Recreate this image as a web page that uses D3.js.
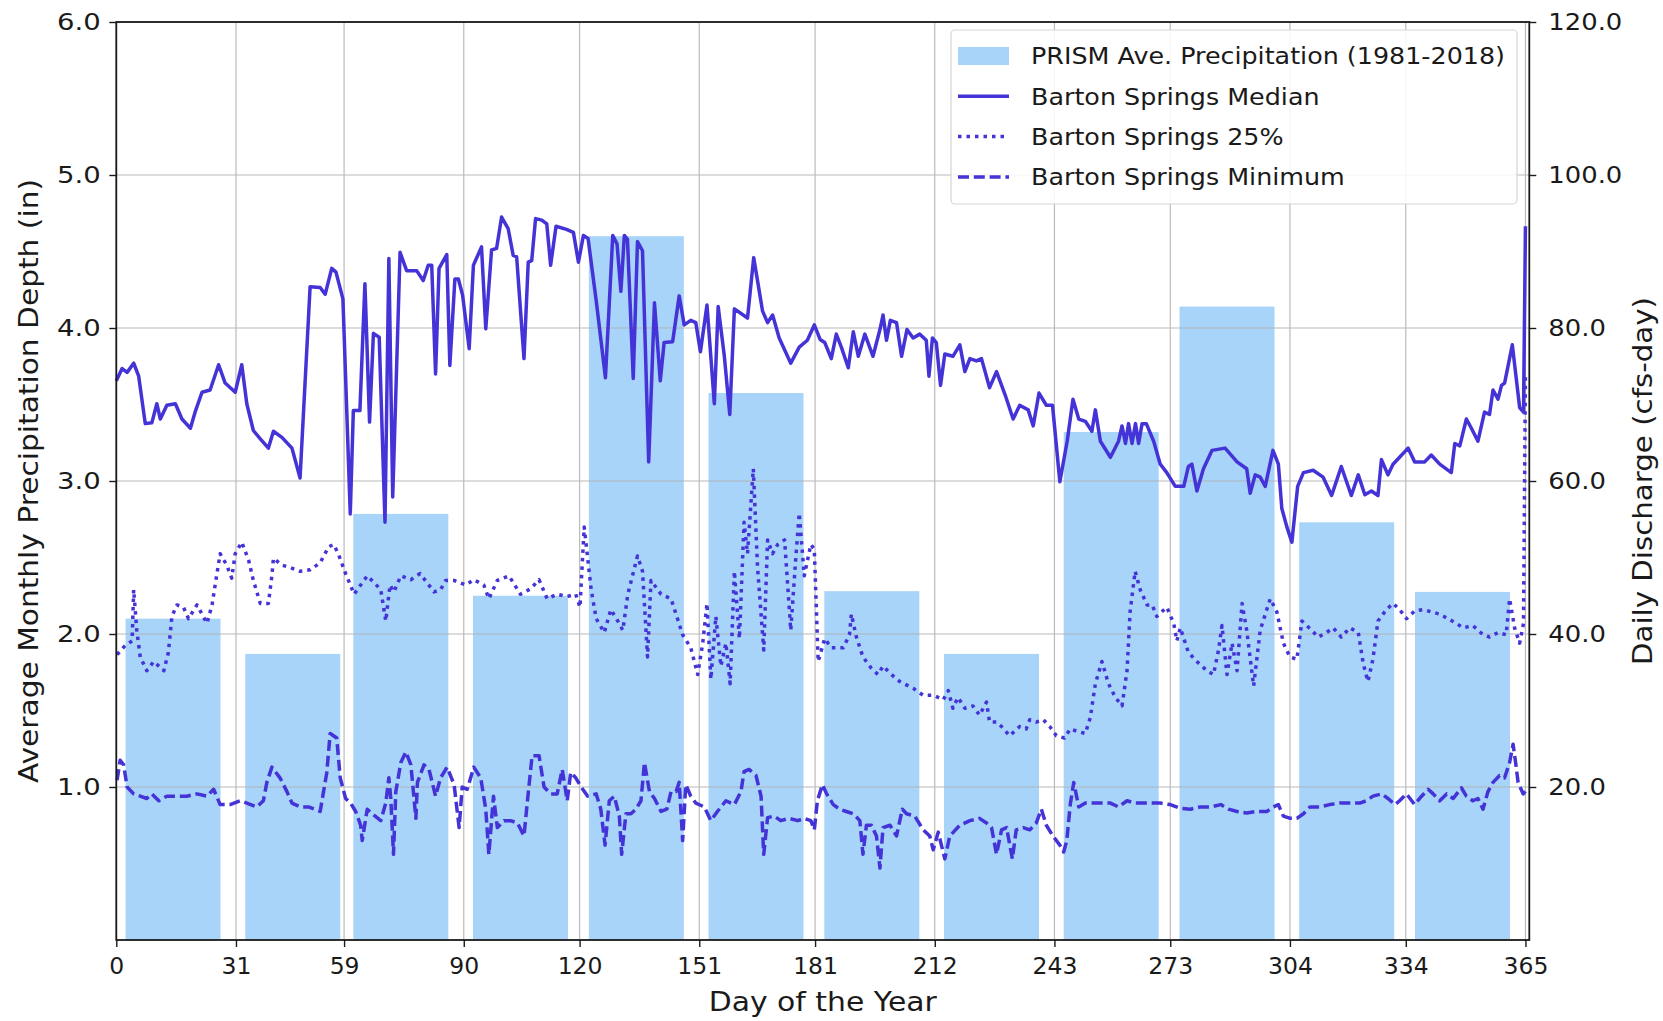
<!DOCTYPE html>
<html>
<head>
<meta charset="utf-8">
<script src="https://cdn.jsdelivr.net/npm/d3@7"></script>
<style>
  html, body { margin: 0; padding: 0; background: #ffffff; }
  svg { display: block; }
  text { font-family: "DejaVu Sans", sans-serif; fill: #1a1a1a; }
</style>
</head>
<body>
<svg id="chart" width="1663" height="1021"></svg>
<script>
// ---------------- DATA ----------------
const months = ["Jan","Feb","Mar","Apr","May","Jun","Jul","Aug","Sep","Oct","Nov","Dec"];
const monthStartDay = [0, 31, 59, 90, 120, 151, 181, 212, 243, 273, 304, 334];
const precipInches = [2.10, 1.87, 2.785, 2.25, 4.60, 3.575, 2.28, 1.87, 3.32, 4.14, 2.73, 2.275];

const xTickDays = [0, 31, 59, 90, 120, 151, 181, 212, 243, 273, 304, 334, 365];
const leftTicks = [1.0, 2.0, 3.0, 4.0, 5.0, 6.0];
const rightTicks = [20, 40, 60, 80, 100, 120];

const medianDays = [0,1.5,2.8,4.5,5.8,7.5,9.2,10.5,11.4,13.1,15.3,17,19.2,20.4,22.2,24.3,26.5,28.2,30.8,32.5,33.8,35.5,37.3,39.4,40.7,42.9,45.5,47.6,50.2,52.8,54.1,55.8,56.9,58.7,60.6,61.4,63.1,64.4,65.6,66.6,68.1,69.6,70.6,71.6,73.5,75.2,77.8,79.5,80.8,81.7,82.7,83.6,85.6,86.4,87.7,88.6,89.7,91.4,92.5,94.6,95.7,97.2,98.5,99.8,101.5,102.8,103.7,105.6,106.7,107.6,108.6,110.2,111.5,112.5,113.9,116.6,118.4,119.7,121,122.2,124.3,126.7,128.6,129.7,130.7,131.6,132.4,133.9,135,136.3,137.9,139.4,140.9,141.9,144.1,145.8,147.1,148.8,150.1,151.3,153,154.9,155.9,157.5,158.9,160.1,163.5,165.1,167.4,168.7,170,171.7,174.7,176.9,179,180.8,182.3,183.5,185.2,186.5,187.8,189.6,190.9,192.2,193.9,196,197.8,198.6,199.5,200.5,202.1,203.4,204.8,206.4,208.1,209.8,210.5,211.4,212.4,213.5,214.6,216.7,218.5,219.8,221.1,222.8,224.1,226.2,228,230.2,232.3,234,236.2,237.5,239,240.9,242.5,244.4,246.3,247.8,249.3,251,252.7,253.6,254.9,257.5,259.6,260.5,261.4,262.2,263.1,264,264.8,265.7,266.8,268.7,270.4,272.1,274.3,276.5,277.7,278.6,279.9,281.6,283.8,287.2,290.3,292.8,293.7,295,296.3,297.6,299.6,301,301.9,303.2,304.5,306,307.5,310,312.6,314.8,317.3,319.9,321.7,323.4,325.1,326.8,327.7,329.4,330.7,332.4,334.6,336.3,338.9,340.6,342.8,345.8,346.7,348,349.7,351,352.7,354.4,355.7,356.6,357.9,358.8,359.6,361.6,363.5,364.5,365];
const medianCfs = [73.1,74.7,74.2,75.4,73.7,67.5,67.6,70.1,68.1,69.9,70.1,68.1,66.9,69,71.6,71.9,75.2,72.8,71.6,75.2,70.1,66.6,65.5,64.3,66.5,65.7,64.3,60.4,85.4,85.3,84.4,87.8,87.3,83.8,55.7,69.2,69.2,85.8,67.7,79.3,78.8,54.6,89.1,57.9,89.9,87.5,87.5,86.2,88.2,88.2,74.0,87.8,89.6,75.1,86.4,86.4,84.3,77.3,88.2,90.6,79.9,90.2,90.4,94.5,93.0,89.5,89.3,76.0,88.6,88.8,94.3,94.1,93.6,88.2,93.3,92.9,92.5,88.6,92.1,91.7,83.6,73.5,92.1,91,84.8,92.1,91.6,73.4,91.3,90.1,62.5,83.3,73.1,78.1,78.2,84.2,80.4,81.0,80.7,76.9,83.0,70.1,82.8,76.3,68.7,82.5,81.3,89.2,82.2,80.7,81.7,78.7,75.4,77.5,78.4,80.4,78.5,78.1,76.0,79.2,77.5,74.8,79.5,76.3,79.2,76.3,79.8,81.7,78.4,81.0,80.7,76.3,79.8,78.7,79.2,78.4,73.7,78.7,78.1,72.5,76.6,76.3,77.8,74.3,76.0,75.7,76.0,72.2,74.3,71.3,68.1,69.9,69.3,67.2,71.5,69.9,69.9,59.9,65.2,70.7,68.1,67.8,66.5,69.3,65.2,63.1,65.2,67.2,64.9,67.5,64.9,67.5,64.9,67.5,67.5,65.2,62.2,61.1,59.3,59.3,61.9,62.2,58.7,61.6,64.0,64.3,62.5,61.6,58.4,60.8,60.5,59.3,64.0,62.2,56.4,54.0,52.0,59.3,61.1,61.4,60.5,58.1,61.9,58.1,60.8,58.2,58.7,58.1,62.8,60.8,62.2,63.1,64.3,62.5,62.5,63.4,62.2,61.1,64.9,64.6,68.1,66.9,65.2,69.0,68.7,71.9,70.7,72.5,72.8,77.8,69.6,69,93.3];

const p25Days = [0.2,2.3,4.1,4.5,5.3,6.2,7.9,9.7,12.3,13.5,14.4,15.7,17.4,18.7,20.9,23.5,24.8,25.6,26.9,28.6,29.9,30.8,32.5,34.3,35.5,37.3,39.4,40.3,40.7,42.9,45,47.6,50.2,52.8,55,56.3,57.5,59.4,61.6,63.3,65,66.8,68.5,69.8,70.9,71.9,73.7,76.3,78.7,82.3,84,85.3,87.5,90.5,92.6,95.2,96.5,98.7,101.7,104.7,107.3,109.5,111.6,114.2,116.8,119,120.1,121.2,123,124.3,126.4,128.1,129.9,131.2,132.5,135,136.3,137.6,138.5,141.1,143.7,146.7,148.8,150.6,151.9,153,154,155.3,156.6,157.9,159,160.1,161.4,162.6,163.5,165,166.1,167.7,168.7,170,171.3,173.1,174.7,176,176.9,178.2,179.9,180.8,181.8,183.5,185.2,188.3,189.9,190.4,191.7,193.4,195.6,197.3,198.6,200.8,202.9,206.4,209,211.6,214.2,215.5,216.7,218,219.8,221.9,223.6,225.4,226.2,228,229.3,231.4,234,235.7,236.6,238.3,240.1,241.8,243.5,245.6,247.1,248.8,251,252.3,253.6,255.3,257,258.8,260.5,261.8,262.6,263.9,265.2,267,268.3,269.5,272.1,273.9,274.7,275.6,277.7,279.9,282.5,284.2,285.5,286.4,287.7,289,290.3,291.6,292.8,294.6,296.3,298,298.9,300.6,302.3,304,305.8,307.1,309.6,311.3,313.5,315.2,317.3,319.5,321.7,323,324.2,325.5,326.8,329,330.7,332.4,334.2,336.3,338.5,340.6,342.8,344.9,347.1,348.8,351.4,353.6,355.7,357.9,360,360.9,362.2,363.5,364.5,365];
const p25Cfs = [37.3,38.5,39.1,45.8,40.5,37.0,35.2,36.4,35.2,37.6,42.3,43.8,43.5,42.0,43.8,41.4,43.8,46.4,50.5,49.0,47.3,50.5,52.0,49.6,47.0,44.0,44.0,47.6,49.9,49.0,48.7,48.2,48.4,49.3,51.4,51.7,50.5,47.9,45.2,46.4,47.6,46.7,45.8,41.7,46.4,45.5,47.6,47.1,47.9,45.5,45.8,47.0,47.0,46.4,47.1,46.4,44.6,47.0,47.6,45.2,45.9,47.1,44.6,45.2,44.9,45.2,43.5,54.0,45.8,42.0,40.2,43.2,41.7,40.5,45.2,50.2,48.2,37.0,47.0,45.2,44.6,39.9,38.2,34.7,38.8,44.0,34.1,42.3,35.8,38.8,33.5,48.2,39.4,54.6,50.5,61.6,48.7,37.9,52.3,50.5,51.7,52.3,40.5,49.9,55.8,47.6,51.7,51.1,36.4,39.4,38.2,38.2,39.9,42.6,39.6,37.0,35.5,34.7,35.8,34.7,33.8,32.9,32.0,32.0,31.4,32.6,30.3,31.7,30.3,30.6,29.4,31.1,28.5,28.5,27.9,26.7,27.9,27.6,28.8,28.5,28.8,27.9,26.7,26.4,27.6,27.3,27.0,29.1,33.5,36.4,33.5,31.7,30.6,35.2,42.9,48.2,45.8,43.8,43.8,42.3,43.5,41.4,39.1,40.8,37.6,36.4,35.2,34.7,37.9,41.1,34.7,38.8,35.2,44.0,40.5,33.2,40.5,43.2,44.6,42.9,38.8,37.0,36.7,41.7,40.5,39.6,40.2,40.8,39.6,40.8,40.2,36.1,33.8,36.7,41.7,43.2,44.0,43.2,42.0,43.0,43.2,42.9,42.6,42.0,41.4,40.8,41.1,40.1,39.6,40.2,39.9,44.6,40.8,38.8,41.4,74.0];

const minDays = [0.2,1,1.9,2.8,4.5,6.2,7.9,9.2,11,13.1,15.7,18.3,20.9,23.5,25.2,26.9,29.5,32.1,33.8,36.4,38.1,39,40.3,42.4,44.2,45.5,47.6,49.8,52.8,54.5,55.4,57.1,58,59.4,60.7,62,63.3,63.7,65,66.3,68.5,69.8,70.6,71.1,71.8,72.4,73.7,75,76.3,77.6,78,79.7,81,82.7,84,85.7,87.5,88.8,89.6,90.9,92.6,94.4,95.7,96.5,97.7,98.7,100.4,102.1,103.9,105.6,106.5,107.7,109.5,110.8,112.5,114.2,115.5,116.8,117.7,119,120.4,122.1,124.3,125.5,126.6,127.7,129,130.3,130.9,132,133.3,134.6,135.9,136.8,138.1,139.4,141.1,142.6,143.7,145,145.8,146.7,147.5,148.8,150.1,152.3,154,155.7,157.9,160.1,161.8,162.6,163.9,165.7,167,167.7,168.7,170.4,172.1,174.3,176.5,178.2,179.9,180.8,181.6,182.9,184,185.7,187.4,189.1,190.9,192.6,193.4,194.3,195.6,196.9,197.8,198.6,200.4,202.1,203.6,204.7,206.8,209,210.7,211.6,212.9,214.6,215.9,218.5,221.1,223.6,225.4,226.7,228,229.3,230.6,232.1,233.1,234.9,236.6,238.3,239.6,240.9,242.6,244.4,245.4,246.2,247.1,248,249.3,251,253.2,255.7,257.5,259.6,261.8,263.9,266.1,268.3,270.4,273,275.6,278.2,280.8,283.4,286.1,288.1,290.3,292.8,295.4,298,299.7,301,302.3,304.1,305.8,307.5,309.2,311.7,314.3,316.9,319.5,322.1,323.8,325.5,327.7,329.4,331.2,332.4,334.2,336.3,338.1,339.8,341.1,342.8,344.6,346.3,348.4,349.7,351.4,352.7,354,355.3,356.6,358.3,359.6,360.9,361.8,362.5,363.1,364.4,365];
const minCfs = [20.9,23.5,22.9,20.0,19.1,18.8,18.5,19.1,18.2,18.8,18.8,18.8,19.1,18.8,19.7,17.7,17.7,18.2,17.9,17.4,18.2,20.6,22.6,21.2,19.4,17.9,17.4,17.4,16.8,21.8,27.0,26.4,21.2,18.5,17.9,16.8,15.0,13.0,17.1,16.5,15.6,17.9,21.2,18.5,11.2,19.4,23.2,24.6,22.9,15.9,20.6,22.9,22.3,18.8,21.2,22.6,20.3,14.7,20.0,19.7,22.6,21.2,17.1,11.2,18.8,14.7,15.6,15.6,15.3,13.6,18.2,24.1,24.1,20.0,19.1,19.1,22.3,18.2,21.9,21.2,20.0,18.8,19.1,17.1,12.4,18.2,18.8,16.2,11.2,16.5,16.5,17.1,18.2,23.2,19.4,18.5,16.8,17.1,19.4,19.4,20.6,13.0,20.3,18.8,17.9,17.4,15.6,16.8,18.2,17.7,19.4,22.0,22.3,21.5,18.8,11.2,16.0,16.2,15.6,15.9,15.6,15.9,15.6,14.4,18.2,20.3,19.1,17.7,17.1,16.8,16.5,15.6,11.2,15.0,15.0,13.6,9.4,14.7,15.0,13.6,17.1,16.5,16.2,14.4,13.6,11.8,14.1,10.6,13.6,15.0,15.6,15.9,15.3,14.7,11.2,14.4,14.7,10.6,14.4,14.7,14.4,15.3,17.1,15.0,13.6,12.4,11.5,13.0,17.7,20.6,17.4,17.9,17.9,17.9,17.9,17.4,18.2,17.9,17.9,17.9,17.9,17.7,17.2,17.1,17.4,17.4,17.7,17.1,16.8,16.6,16.8,16.8,17.4,17.7,16.2,15.9,15.9,16.5,17.4,17.4,17.7,17.9,17.9,17.9,18.2,18.8,19.1,18.5,17.7,18.2,19.1,17.7,18.8,19.7,19.1,18.2,19.1,18.5,19.9,18.8,18.2,18.5,17.1,19.4,20.6,21.5,21.2,23.2,25.6,23.0,20.6,19.1,19.4];

// ---------------- LAYOUT ----------------
const plot = { left: 116.3, right: 1529.3, top: 22, bottom: 940 };
const lineColor = "#4433d6";
const barColor = "#a8d4f9";
const gridColor = "#b0b0b0";
const lineW = 3.5;
const dotDash = "3.5,5";
const dashDash = "11,4.8";

const svg = d3.select("#chart");

const x = d3.scaleLinear().domain([0, 366]).range([plot.left, plot.right]);
const yL = d3.scaleLinear().domain([0, 6]).range([plot.bottom, plot.top]);
const yR = d3.scaleLinear().domain([0, 120]).range([plot.bottom, plot.top]);

// horizontally widen a text to match the reference's glyph width
function widen(sel, factor) {
  sel.each(function () {
    const len = this.getComputedTextLength();
    d3.select(this).attr("textLength", len * factor).attr("lengthAdjust", "spacingAndGlyphs");
  });
}

// bars
const bars = months.map((m, i) => ({ m, start: monthStartDay[i], v: precipInches[i] }));
svg.append("g").selectAll("rect").data(bars).join("rect")
  .attr("x", d => x(d.start + 2.4))
  .attr("width", d => x(d.start + 27.0) - x(d.start + 2.4))
  .attr("y", d => yL(d.v))
  .attr("height", d => yL(0) - yL(d.v))
  .attr("fill", barColor);

// grid (above bars, below lines)
const grid = svg.append("g").attr("stroke", gridColor).attr("stroke-width", 1.2).attr("opacity", 0.85);
grid.selectAll("line.v").data(xTickDays).join("line")
  .attr("x1", d => x(d)).attr("x2", d => x(d))
  .attr("y1", plot.top).attr("y2", plot.bottom);
grid.selectAll("line.h").data(leftTicks).join("line")
  .attr("x1", plot.left).attr("x2", plot.right)
  .attr("y1", d => yL(d)).attr("y2", d => yL(d));

// lines
function drawLine(days, vals, dash) {
  const pts = days.map((d, i) => [d, vals[i]]);
  const gen = d3.line().x(p => x(p[0])).y(p => yR(p[1]));
  svg.append("path").datum(pts)
    .attr("d", gen)
    .attr("fill", "none")
    .attr("stroke", lineColor)
    .attr("stroke-width", lineW)
    .attr("stroke-linejoin", "round")
    .attr("stroke-dasharray", dash);
}
drawLine(medianDays, medianCfs, null);
drawLine(p25Days, p25Cfs, dotDash);
drawLine(minDays, minCfs, dashDash);

// axes
const axB = d3.axisBottom(x).tickValues(xTickDays).tickFormat(d3.format("d")).tickSize(7).tickPadding(10);
const gB = svg.append("g").attr("transform", `translate(0,${plot.bottom})`).call(axB);
const axLft = d3.axisLeft(yL).tickValues(leftTicks).tickFormat(d3.format(".1f")).tickSize(7).tickPadding(8.5);
const gL = svg.append("g").attr("transform", `translate(${plot.left},0)`).call(axLft);
const axRgt = d3.axisRight(yR).tickValues(rightTicks).tickFormat(d3.format(".1f")).tickSize(7).tickPadding(12);
const gR = svg.append("g").attr("transform", `translate(${plot.right},0)`).call(axRgt);
[gB, gL, gR].forEach(g => {
  g.select(".domain").remove();
  g.selectAll(".tick line").attr("stroke", "#1a1a1a").attr("stroke-width", 1.4);
  g.selectAll(".tick text").attr("font-size", 23.5).attr("font-family", "DejaVu Sans").attr("fill", "#1a1a1a");
});
widen(gL.selectAll(".tick text"), 1.17);
widen(gR.selectAll(".tick text"), 1.1);

// frame
svg.append("rect")
  .attr("x", plot.left).attr("y", plot.top)
  .attr("width", plot.right - plot.left).attr("height", plot.bottom - plot.top)
  .attr("fill", "none").attr("stroke", "#1a1a1a").attr("stroke-width", 1.8);

// axis titles
svg.append("text").attr("x", (plot.left + plot.right) / 2).attr("y", 1011)
  .attr("text-anchor", "middle").attr("font-size", 26)
  .attr("textLength", 228).attr("lengthAdjust", "spacingAndGlyphs")
  .text("Day of the Year");
svg.append("text")
  .attr("transform", `translate(38,${(plot.top + plot.bottom) / 2}) rotate(-90)`)
  .attr("text-anchor", "middle").attr("font-size", 26)
  .attr("textLength", 604).attr("lengthAdjust", "spacingAndGlyphs")
  .text("Average Monthly Precipitation Depth (in)");
svg.append("text")
  .attr("transform", `translate(1652,${(plot.top + plot.bottom) / 2}) rotate(-90)`)
  .attr("text-anchor", "middle").attr("font-size", 26)
  .attr("textLength", 368).attr("lengthAdjust", "spacingAndGlyphs")
  .text("Daily Discharge (cfs-day)");

// legend
const lg = svg.append("g");
lg.append("rect").attr("x", 951).attr("y", 30).attr("width", 566).attr("height", 174)
  .attr("rx", 4).attr("fill", "#ffffff").attr("fill-opacity", 0.85)
  .attr("stroke", "#d6d6d6").attr("stroke-width", 1.2);
const legendItems = [
  { label: "PRISM Ave. Precipitation (1981-2018)", type: "patch" },
  { label: "Barton Springs Median", type: "line", dash: null },
  { label: "Barton Springs 25%", type: "line", dash: dotDash },
  { label: "Barton Springs Minimum", type: "line", dash: dashDash }
];
legendItems.forEach((it, i) => {
  const cy = 56 + i * 40.3;
  if (it.type === "patch") {
    lg.append("rect").attr("x", 958).attr("y", cy - 9).attr("width", 51).attr("height", 18).attr("fill", barColor);
  } else {
    lg.append("line").attr("x1", 958).attr("x2", 1009).attr("y1", cy).attr("y2", cy)
      .attr("stroke", lineColor).attr("stroke-width", lineW).attr("stroke-dasharray", it.dash);
  }
  const t = lg.append("text").attr("x", 1031).attr("y", cy).attr("dy", "0.36em")
    .attr("font-size", 23.5).text(it.label);
  widen(t, 1.08);
});
</script>
</body>
</html>
